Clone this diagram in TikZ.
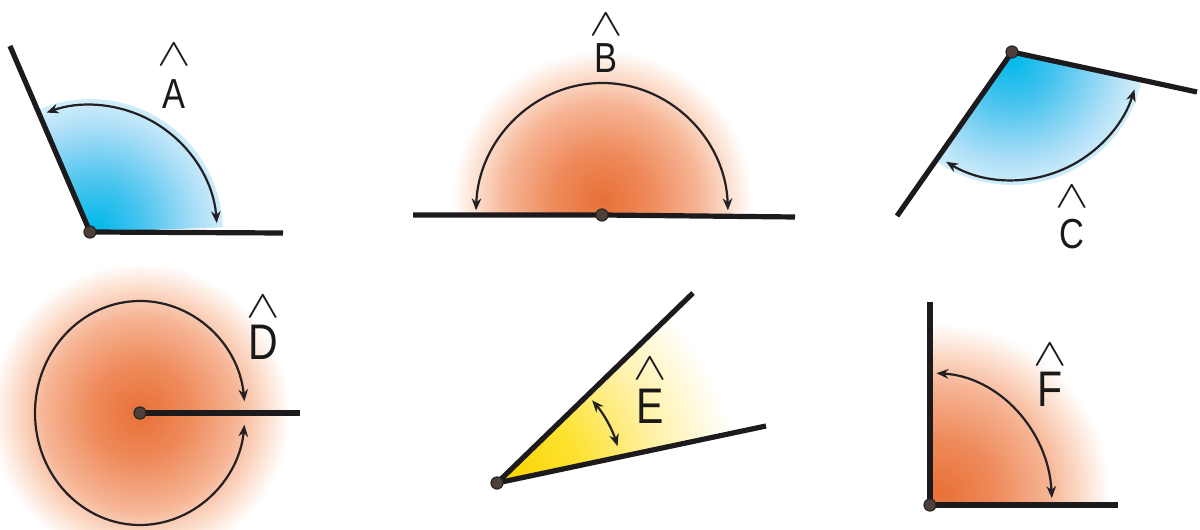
\documentclass[tikz,border=0pt]{standalone}
\usepackage{fontspec}
\setmainfont{Liberation Sans}[FakeStretch=0.82]
\usetikzlibrary{arrows.meta}
\definecolor{raycol}{RGB}{28,26,28}
\definecolor{arccol}{RGB}{35,32,35}
\definecolor{dotcol}{RGB}{80,62,58}
\pgfdeclareradialshading{blueglow}{\pgfpoint{0bp}{0bp}}{%
  color(0bp)=(rgb,255:red,0;green,185;blue,235);
  color(8bp)=(rgb,255:red,70;green,195;blue,238);
  color(18bp)=(rgb,255:red,170;green,222;blue,247);
  color(25bp)=(rgb,255:red,225;green,243;blue,252);
  color(50bp)=(rgb,255:red,225;green,243;blue,252)}
\pgfdeclareradialshading{orangeglow}{\pgfpoint{0bp}{0bp}}{%
  color(0bp)=(rgb,255:red,232;green,112;blue,55);
  color(8bp)=(rgb,255:red,238;green,138;blue,90);
  color(16bp)=(rgb,255:red,246;green,180;blue,148);
  color(21bp)=(rgb,255:red,252;green,222;blue,205);
  color(25bp)=(white);
  color(50bp)=(white)}
\pgfdeclareradialshading{yellowglow}{\pgfpoint{0bp}{0bp}}{%
  color(0bp)=(rgb,255:red,250;green,212;blue,0);
  color(8bp)=(rgb,255:red,253;green,226;blue,50);
  color(16bp)=(rgb,255:red,255;green,240;blue,160);
  color(25bp)=(white);
  color(50bp)=(white)}
\tikzset{
  ray/.style={line width=2.6pt, draw=raycol, line join=round},
  turn/.style={line width=1.1pt, draw=arccol,
    {Stealth[length=6pt,width=4.8pt]}-{Stealth[length=6pt,width=4.8pt]}},
  vdot/.style={circle, fill=dotcol, draw=black!85, line width=0.6pt, inner sep=0pt, minimum size=6pt},
  letterlbl/.style={font=\fontsize{21}{24}\selectfont, inner sep=0pt, text=black!90},
  biglbl/.style={font=\fontsize{25}{28}\selectfont, inner sep=0pt, text=black!90},
  hatlbl/.style={font=\fontsize{17}{20}\selectfont, inner sep=0pt, text=black!90}
}
\newcommand{\hatmark}{\scalebox{1.45}[1.12]{$\wedge$}}
\begin{document}
\begin{tikzpicture}[x=0.5pt,y=0.5pt]
\useasboundingbox (0,0) rectangle (1200,530);
% ---------- A ----------
\coordinate (A0) at (90,298);
\coordinate (A1) at (10,484);
\coordinate (A2) at (283,297);
\begin{scope}
  \clip (A0) -- ([shift={(2:133)}]A0) arc[start angle=2,end angle=113.3,radius=133] -- cycle;
  \shade[shading=blueglow] ([shift={(6,4)}]A0) circle (140);
\end{scope}
\draw[ray] (A1) -- (A0) -- (A2);
\node[vdot] (Adot) at (A0) {};
\draw[turn] ([shift={(4:127)}]A0) arc[start angle=4,end angle=110,radius=127];
\node[letterlbl] (Alab) at (174,436) {A};
\node[hatlbl] (Ahat) at (174,475) {\hatmark};
% ---------- B ----------
\coordinate (B0) at (602,315);
\coordinate (B1) at (413,315);
\coordinate (B2) at (795,313);
\begin{scope}
  \clip (400,315) rectangle (800,490);
  \shade[shading=orangeglow] (602,330) circle (150);
\end{scope}
\draw[ray] (B1) -- (B0) -- (B2);
\node[vdot] (Bdot) at (B0) {};
\draw[turn] ([shift={(2:126 and 132)}]B0) arc[start angle=2,end angle=178,x radius=126,y radius=132];
\node[letterlbl] (Blab) at (606,472) {B};
\node[hatlbl] (Bhat) at (606,505) {\hatmark};
% ---------- C ----------
\coordinate (C0) at (1012,478);
\coordinate (C1) at (1197,438);
\coordinate (C2) at (897,314);
\begin{scope}
  \clip (C0) -- ([shift={(235:133)}]C0) arc[start angle=235,end angle=347.8,radius=133] -- cycle;
  \shade[shading=blueglow] ([shift={(0,-6)}]C0) circle (140);
\end{scope}
\draw[ray] (C1) -- (C0) -- (C2);
\node[vdot] (Cdot) at (C0) {};
\draw[turn] ([shift={(239:128)}]C0) arc[start angle=239,end angle=343,radius=128];
\node[letterlbl] (Clab) at (1072,296) {C};
\node[hatlbl] (Chat) at (1072,333) {\hatmark};
% ---------- D ----------
\coordinate (D0) at (140,117);
\coordinate (D1) at (300,117);
\shade[shading=orangeglow] (D0) circle (150);
\draw[ray] (D0) -- (D1);
\node[vdot] (Ddot) at (D0) {};
\draw[turn] ([shift={(6:105 and 112)}]D0) arc[start angle=6,end angle=354,x radius=105,y radius=112];
\node[biglbl] (Dlab) at (263,188) {D};
\node[hatlbl] (Dhat) at (263,223) {\hatmark};
% ---------- E ----------
\coordinate (E0) at (497,47);
\coordinate (E1) at (693,237);
\coordinate (E2) at (766,104);
\begin{scope}
  \clip (E0) -- ([shift={(12:260)}]E0) arc[start angle=12,end angle=44,radius=260] -- cycle;
  \shade[shading=yellowglow] ([shift={(10,4)}]E0) circle (230);
\end{scope}
\draw[ray] (E1) -- (E0) -- (E2);
\node[vdot] (Edot) at (E0) {};
\draw[turn] ([shift={(41:126)}]E0) arc[start angle=41,end angle=17,radius=126];
\node[biglbl] (Elab) at (650,124) {E};
\node[hatlbl] (Ehat) at (650,161) {\hatmark};
% ---------- F ----------
\coordinate (F0) at (930,25);
\coordinate (F1) at (930,228);
\coordinate (F2) at (1118,25);
\begin{scope}
  \clip (930,25) rectangle (1120,230);
  \shade[shading=orangeglow] (940,36) circle (170);
\end{scope}
\draw[ray] (F1) -- (F0) -- (F2);
\node[vdot] (Fdot) at (F0) {};
\draw[turn] ([shift={(3:122 and 132)}]F0) arc[start angle=3,end angle=87,x radius=122,y radius=132];
\node[biglbl] (Flab) at (1050,141) {F};
\node[hatlbl] (Fhat) at (1050,175) {\hatmark};
\end{tikzpicture}
\end{document}
